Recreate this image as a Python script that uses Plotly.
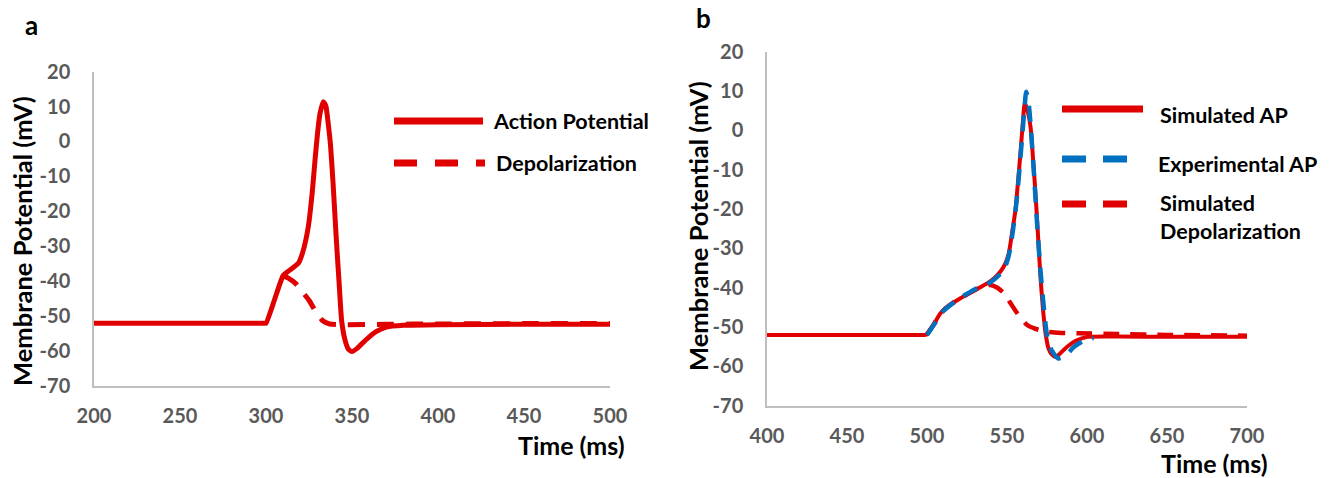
import plotly.graph_objects as go

W, H = 1330, 478

# ---------------- data ----------------
# Panel a
t_a_ap = [200, 250, 290, 299, 300, 305, 310, 314, 318.8, 321.5, 324.6, 327, 328.5, 330, 331.4, 333.3, 334.8, 336.2,
          337.5, 339, 341, 342.5, 344, 346, 348, 350, 353, 358, 364, 370, 380, 400, 450, 500]
v_a_ap = [-52.1, -52.1, -52.1, -52.1, -52.1, -45.3, -38.4, -36.8, -34.9, -31.5, -24.4, -14, -5.3, 2.5, 8, 11.4, 10.2, 5,
          -1, -12, -29, -40.5, -51.5, -57, -59.6, -60.2, -59.3, -56.9, -54.5, -53.2, -52.7, -52.5, -52.4, -52.4]
t_a_dep = [310, 313, 317, 321, 325, 329, 333, 337, 345, 370, 400, 450, 500]
v_a_dep = [-38.4, -39.2, -40.6, -43, -45.5, -48.8, -51.4, -52.3, -52.5, -52.4, -52.3, -52.2, -52.2]

# Panel b
t_b_sim = [400, 450, 490, 499, 500, 504, 508.4, 514, 520.9, 530, 537.6, 542, 545.9, 549, 551.1, 553, 555.3, 557,
           558.4, 560, 561.1, 562.5, 564.7, 566.5, 567.8, 569.5, 570.9, 572.5, 574.1, 576, 578.3,
           580.3, 583, 587.6, 593, 600.2, 620, 650, 700]
v_b_sim = [-52, -52, -52, -52, -51.8, -49.5, -46.5, -44.5, -42.7, -40.6, -38.9, -37.6, -35.9, -33.8, -31.3, -26.5, -20.2, -12.5,
           -5.8, 2.5, 6.9, 5.5, 0.9, -8.5, -16, -27.5, -37.2, -45.5, -51.6, -55.5, -57.1,
           -57.6, -56.8, -55, -53.5, -52.5, -52.4, -52.5, -52.5]
t_b_exp = [500, 505, 510, 520, 530, 540, 548, 551, 553, 556, 559, 561, 562, 563.5, 565, 567, 569,
           571, 573, 575, 578, 582, 586, 592, 598, 604]
v_b_exp = [-52, -49, -46, -42.8, -40.4, -38.5, -35.5, -32, -27.5, -18, -4, 6, 9.8, 7, 0, -12, -25,
           -36, -45, -52, -56, -58, -57.5, -55, -53.5, -52.8]
t_b_dep = [500, 504, 508.4, 514, 520.9, 530, 535, 539.6, 544, 548, 552, 556.4, 562.6, 568, 575, 584, 594,
           620, 650, 700]
v_b_dep = [-51.8, -49.5, -46.5, -44.5, -42.7, -40.6, -39.6, -39.3, -40, -41.4, -43.8, -46.5, -49.5, -50.5,
           -51.2, -51.5, -51.6, -51.8, -52, -52.2]

x_ticks_a = [200, 250, 300, 350, 400, 450, 500]
x_ticks_b = [400, 450, 500, 550, 600, 650, 700]
y_ticks = [20, 10, 0, -10, -20, -30, -40, -50, -60, -70]
y_tick_text = ["20", "10", "0", "-10", "-20", "-30", "-40", "-50", "-60", "-70"]

RED = "#E00000"
BLUE = "#0070C0"
FONT = "Lato"

fig = go.Figure()
fig.add_trace(go.Scatter(x=t_a_ap, y=v_a_ap, mode="lines", name="Action Potential",
                         line=dict(color=RED, width=5, shape="spline", smoothing=0.5),
                         xaxis="x", yaxis="y"))
fig.add_trace(go.Scatter(x=t_a_dep, y=v_a_dep, mode="lines", name="Depolarization",
                         line=dict(color=RED, width=5, dash="17px,12px", shape="spline", smoothing=0.6),
                         xaxis="x", yaxis="y"))
fig.add_trace(go.Scatter(x=t_b_sim, y=v_b_sim, mode="lines", name="Simulated AP",
                         line=dict(color=RED, width=4, shape="spline", smoothing=0.6),
                         xaxis="x2", yaxis="y2"))
fig.add_trace(go.Scatter(x=t_b_dep, y=v_b_dep, mode="lines", name="Simulated Depolarization",
                         line=dict(color=RED, width=4.5, dash="16px,11px", shape="spline", smoothing=0.6),
                         xaxis="x2", yaxis="y2"))
fig.add_trace(go.Scatter(x=t_b_exp, y=v_b_exp, mode="lines", name="Experimental AP",
                         line=dict(color=BLUE, width=4.5, dash="16px,11px", shape="spline", smoothing=0.6),
                         xaxis="x2", yaxis="y2"))

def px(x):
    return x / W

def py(y):
    return 1 - y / H

axis_common = dict(showgrid=False, zeroline=False, showline=True, linecolor="#BFBFBF", linewidth=1.5,
                   ticks="", tickfont=dict(family=FONT, size=20, color="#595959", weight="bold"),
                   fixedrange=True, automargin=False)

fig.update_layout(
    width=W, height=H, margin=dict(l=0, r=0, t=0, b=0, pad=0, autoexpand=False),
    paper_bgcolor="white", plot_bgcolor="white", showlegend=False,
    xaxis=dict(domain=[px(94), px(610)], range=[200, 500], tickvals=x_ticks_a, anchor="y",
               ticklabelstandoff=12, **axis_common),
    yaxis=dict(domain=[py(385.7), py(71.7)], range=[-70, 20], tickvals=y_ticks, ticktext=y_tick_text,
               anchor="x", ticklabelstandoff=18, **axis_common),
    xaxis2=dict(domain=[px(767), px(1247)], range=[400, 700], tickvals=x_ticks_b, anchor="y2",
                ticklabelstandoff=12, **axis_common),
    yaxis2=dict(domain=[py(405.7), py(51.7)], range=[-70, 20], tickvals=y_ticks, ticktext=y_tick_text,
                anchor="x2", ticklabelstandoff=18, **axis_common),
)

ann = []
def text(x, y, s, size=20, xanchor="left", angle=0, color="black"):
    ann.append(dict(x=px(x), y=py(y), xref="paper", yref="paper", text=s, showarrow=False,
                    xanchor=xanchor, yanchor="middle", textangle=angle,
                    font=dict(family=FONT, size=size, color=color, weight="bold")))

text(31, 25, "a", size=26, xanchor="center")
text(703, 18, "b", size=26, xanchor="center")
text(22, 241, "Membrane Potential (mV)", size=25.5, xanchor="center", angle=-90)
text(698, 226, "Membrane Potential (mV)", size=25.5, xanchor="center", angle=-90)
text(627, 445, "Time (ms)", size=25, xanchor="right")
text(1270, 463, "Time (ms)", size=25, xanchor="right")
# legend texts
text(491, 121, "Action Potential", size=21.5)
text(494, 163, "Depolarization", size=21.5)
text(1158, 115, "Simulated AP", size=21.5)
text(1156, 164, "Experimental AP", size=21.5)
text(1158, 203, "Simulated", size=21.5)
text(1158, 231, "Depolarization", size=21.5)
fig.update_layout(annotations=ann)

shapes = []
def leg_line(x0, x1, y, color, dash="solid", width=7):
    shapes.append(dict(type="line", xref="paper", yref="paper", x0=px(x0), x1=px(x1), y0=py(y), y1=py(y),
                       line=dict(color=color, width=width, dash=dash)))

leg_line(394, 483, 121, RED, width=7)
leg_line(394, 485, 163, RED, dash="23px,18px", width=7)
leg_line(1062, 1143, 109, RED, width=7)
leg_line(1062, 1127, 159, BLUE, dash="24px,17px", width=7)
leg_line(1062, 1127, 204, RED, dash="24px,17px", width=7)
fig.update_layout(shapes=shapes)

fig.write_html("out.html", config={"displayModeBar": False},
               post_script="document.body.style.margin='0';document.body.style.overflow='hidden';")
